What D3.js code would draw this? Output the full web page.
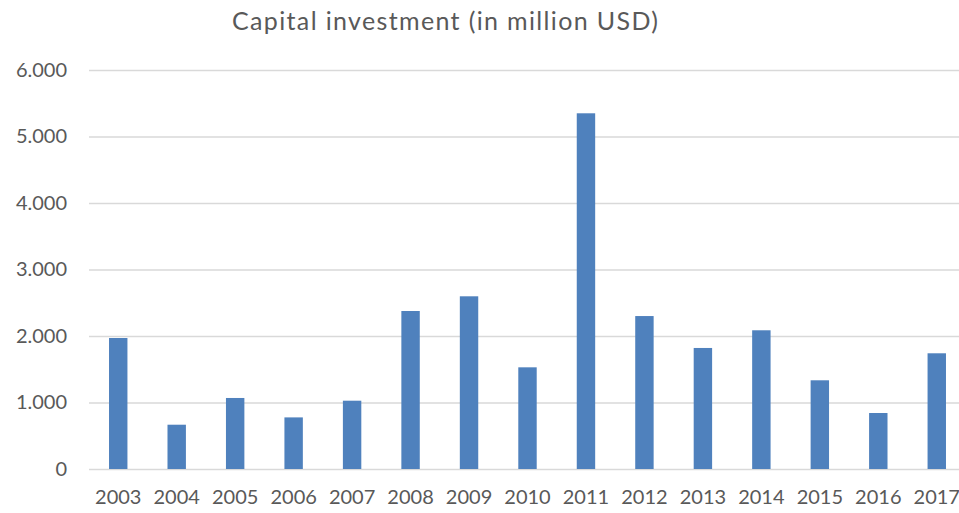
<!DOCTYPE html>
<html>
<head>
<meta charset="utf-8">
<script src="https://cdn.jsdelivr.net/npm/d3@7"></script>
<style>
  html, body { margin: 0; padding: 0; background: #fff; }
  svg { display: block; }
  text { font-family: Lato, "Open Sans", sans-serif; fill: #595959; }
</style>
</head>
<body>
<svg id="chart" width="959" height="513"></svg>
<script>
const title = "Capital investment (in million USD)";
const years = ["2003","2004","2005","2006","2007","2008","2009","2010","2011","2012","2013","2014","2015","2016","2017"];
const investment = [1970, 666, 1068, 776, 1027, 2376, 2597, 1529, 5349, 2300, 1820, 2086, 1334, 842, 1740];
const yTicks = [0, 1000, 2000, 3000, 4000, 5000, 6000];

const svg = d3.select("#chart");
const plot = { left: 89, right: 966, top: 70, bottom: 469 };

const x = d3.scaleBand()
  .domain(years)
  .range([plot.left, plot.right])
  .paddingInner(0.685)
  .paddingOuter(0.3425);

const y = d3.scaleLinear()
  .domain([0, 6000])
  .range([plot.bottom, plot.top]);

const fmt = v => v === 0 ? "0" : d3.format(",")(v).replace(/,/g, ".");

// gridlines
const yAxis = d3.axisLeft(y)
  .tickValues(yTicks)
  .tickSize(-(plot.right - plot.left))
  .tickPadding(22)
  .tickFormat(fmt);

const gy = svg.append("g")
  .attr("transform", `translate(${plot.left},0)`)
  .call(yAxis);
gy.select(".domain").remove();
gy.selectAll(".tick line").attr("stroke", "#d9d9d9").attr("stroke-width", 1.5);
gy.selectAll(".tick text")
  .attr("font-size", 20)
  .attr("fill", "#595959")
  .style("font-family", "Lato, 'Open Sans', sans-serif");

// bars
svg.append("g")
  .selectAll("rect")
  .data(investment)
  .join("rect")
  .attr("x", (d, i) => x(years[i]))
  .attr("width", x.bandwidth())
  .attr("y", d => y(d))
  .attr("height", d => y(0) - y(d))
  .attr("fill", "#4f81bd");

// x axis
const xAxis = d3.axisBottom(x).tickSize(0).tickPadding(21);
const gx = svg.append("g")
  .attr("transform", `translate(0,${plot.bottom})`)
  .call(xAxis);
gx.select(".domain").remove();
gx.selectAll(".tick text")
  .attr("font-size", 20)
  .attr("fill", "#595959")
  .style("font-family", "Lato, 'Open Sans', sans-serif");

// title
svg.append("text")
  .attr("x", 445)
  .attr("y", 30)
  .attr("text-anchor", "middle")
  .attr("font-size", 25)
  .attr("textLength", 426)
  .attr("lengthAdjust", "spacing")
  .text(title);
</script>
</body>
</html>
